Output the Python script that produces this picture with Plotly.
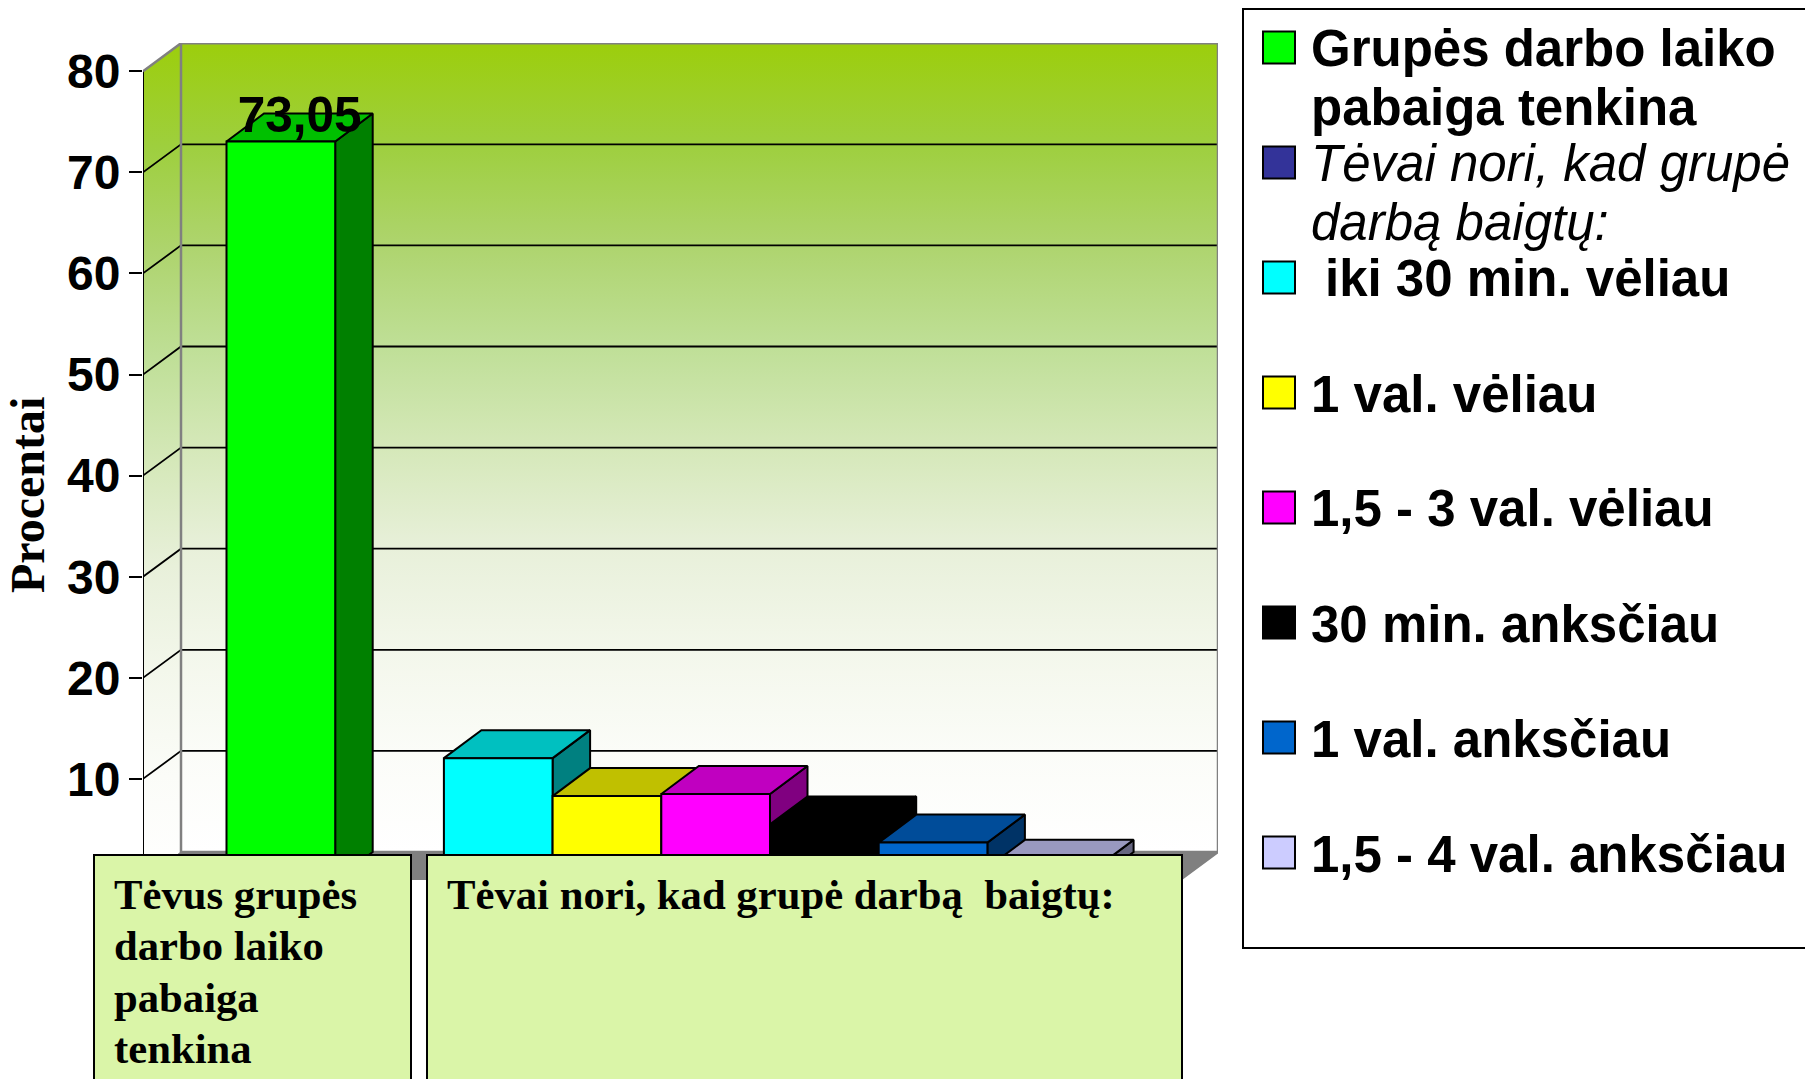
import plotly.graph_objects as go

# ---- data ----
series_names = ["Grupės darbo laiko pabaiga tenkina", "Tėvai nori, kad grupė darbą baigtų:",
                "iki 30 min. vėliau", "1 val. vėliau", "1,5 - 3 val. vėliau",
                "30 min. anksčiau", "1 val. anksčiau", "1,5 - 4 val. anksčiau"]
series_values = [73.05, 0, 12.05, 8.3, 8.5, 5.5, 3.7, 1.2]
front_colors = ["#00FF00", "#333399", "#00FFFF", "#FFFF00", "#FF00FF", "#000000", "#0066CC", "#CCCCFF"]
top_colors = ["#00C000", "#262673", "#00C0C0", "#C0C000", "#C000C0", "#000000", "#004C99", "#9999BF"]
side_colors = ["#008000", "#1A1A4D", "#008080", "#808000", "#800080", "#000000", "#003366", "#666680"]
y_ticks = [10, 20, 30, 40, 50, 60, 70, 80]
y_title = "Procentai"
data_label = "73,05"

# ---- frame geometry ----
W, H = 1805, 1079
PX_L, PX_R, PX_T, PX_B = 143, 1218, 43, 880
SLOT = 108.7
BAR0 = 226.5
UNIT = 10.11
x_min = (PX_L - BAR0) / SLOT
x_max = (PX_R - BAR0) / SLOT
y_max = (PX_B - PX_T) / UNIT
wall_dx = 38 / SLOT
wall_dy = 28 / UNIT
bar_dx = 37.5 / SLOT
bar_dy = 28 / UNIT
floor_x_right = x_max - wall_dx


def pxx(px):
    return px / W


def pxy(py):
    return 1 - py / H


fig = go.Figure()
wall_colours = ["#FFFFFF", "#FBFCF8", "#F3F7EB", "#E8F0DA", "#D5E8B9", "#BFDF97", "#AED46E", "#9ECF3E", "#9CCE0C"]
wall_scale = [[i / 8, c] for i, c in enumerate(wall_colours)]


def poly(xs, ys, fill=None, line="#000000", lw=2, grad=False, name=None):
    kw = dict(x=xs, y=ys, mode="lines", fill="toself", showlegend=False, hoverinfo="skip",
              line=dict(color=line, width=lw), name=name)
    if grad:
        kw["fillgradient"] = dict(type="vertical", colorscale=wall_scale)
    else:
        kw["fillcolor"] = fill
    fig.add_trace(go.Scatter(**kw))


def seg(xs, ys, color="#000000", lw=2):
    fig.add_trace(go.Scatter(x=xs, y=ys, mode="lines", showlegend=False, hoverinfo="skip",
                             line=dict(color=color, width=lw)))


top80 = y_ticks[-1]
# walls and floor
poly([x_min + wall_dx, x_max, x_max, x_min + wall_dx, x_min + wall_dx],
     [wall_dy, wall_dy, top80 + wall_dy, top80 + wall_dy, wall_dy], line="rgba(0,0,0,0)", lw=0, grad=True)
poly([x_min, x_min + wall_dx, x_min + wall_dx, x_min, x_min],
     [0, wall_dy, top80 + wall_dy, top80, 0], line="rgba(0,0,0,0)", lw=0, grad=True)
poly([x_min, x_min + wall_dx, x_max, floor_x_right, x_min],
     [0, wall_dy, wall_dy, 0, 0], fill="#808080", line="#808080", lw=1)

# grid lines on the two walls
for t in y_ticks[:-1]:
    seg([x_min, x_min + wall_dx, x_max], [t, t + wall_dy, t + wall_dy], lw=1.8)

# wall edges
seg([x_min, x_min], [0, top80], lw=2)
seg([x_min, x_min + wall_dx, x_max, x_max, floor_x_right],
    [top80, top80 + wall_dy, top80 + wall_dy, wall_dy, 0], color="#808080", lw=2.5)
seg([x_min + wall_dx, x_min + wall_dx, x_max], [top80 + wall_dy, wall_dy, wall_dy], color="#808080", lw=2.5)

# bars, painted left to right
for i, (name, v) in enumerate(zip(series_names, series_values)):
    if v <= 0:
        continue
    lc = "#000000"
    lw = 2
    poly([i + 1, i + 1 + bar_dx, i + 1 + bar_dx, i + 1, i + 1], [0, bar_dy, v + bar_dy, v, 0],
         fill=side_colors[i], line=lc, lw=lw, name=name)
    poly([i, i + 1, i + 1 + bar_dx, i + bar_dx, i], [v, v, v + bar_dy, v + bar_dy, v],
         fill=top_colors[i], line=lc, lw=lw, name=name)
    poly([i, i + 1, i + 1, i, i], [0, 0, v, v, 0], fill=front_colors[i], line=lc, lw=lw, name=name)

# data label
fig.add_trace(go.Scatter(x=[0.5 + bar_dx / 2], y=[series_values[0] + bar_dy - 0.6], mode="text", text=[data_label],
                         textposition="middle center", showlegend=False, hoverinfo="skip",
                         textfont=dict(family="Liberation Sans", size=49.5, color="#000000", weight="bold")))

shapes = []
annotations = []


def rect(x0, y0, x1, y1, fill, line="#000000", lw=2):
    shapes.append(dict(type="rect", xref="paper", yref="paper", layer="above",
                       x0=pxx(x0), x1=pxx(x1), y0=pxy(y0), y1=pxy(y1),
                       fillcolor=fill, line=dict(color=line, width=lw)))


def label(x, y, text, family="Liberation Sans", size=51, weight="bold", style="normal"):
    annotations.append(dict(xref="paper", yref="paper", x=pxx(x), y=pxy(y), text=text, showarrow=False,
                            xanchor="left", yanchor="middle", align="left",
                            borderpad=0, borderwidth=0,
                            font=dict(family=family, size=size, weight=weight, style=style, color="#000000")))


# axis title
annotations.append(dict(xref="paper", yref="paper", x=pxx(27), y=pxy(495), text=y_title, showarrow=False,
                        textangle=-90, xanchor="center", yanchor="middle",
                        font=dict(family="Liberation Serif", size=48, weight="bold", color="#000000")))

# text boxes under the plot
BOX = "#DAF5A8"
rect(94, 855, 411, 1100, BOX)
rect(427, 855, 1182, 1100, BOX)
for yy, t in zip([894, 945, 997, 1048], ["Tėvus grupės", "darbo laiko", "pabaiga", "tenkina"]):
    label(114, yy, t, family="Liberation Serif", size=42.7)
label(447, 894, "Tėvai nori, kad grupė darbą  baigtų:", family="Liberation Serif", size=42.7)

# legend panel
rect(1243, 9, 1830, 948, "#FFFFFF")
swatch_centres = [47.5, 162.5, 277.5, 392.5, 507.5, 622.5, 737.5, 852.5]
for c, col in zip(swatch_centres, front_colors):
    rect(1263, c - 16, 1295, c + 16, col, lw=2)
legend_lines = [
    (48, "Grupės darbo laiko", "bold", "normal", 1311),
    (108, "pabaiga tenkina", "bold", "normal", 1311),
    (163, "Tėvai nori, kad grupė", "normal", "italic", 1311),
    (222, "darbą baigtų:", "normal", "italic", 1311),
    (279, "iki 30 min. vėliau", "bold", "normal", 1325),
    (394, "1 val. vėliau", "bold", "normal", 1311),
    (509, "1,5 - 3 val. vėliau", "bold", "normal", 1311),
    (624, "30 min. anksčiau", "bold", "normal", 1311),
    (739, "1 val. anksčiau", "bold", "normal", 1311),
    (854, "1,5 - 4 val. anksčiau", "bold", "normal", 1311),
]
for yy, t, w, s, xx in legend_lines:
    label(xx, yy, t, weight=w, style=s)

fig.update_layout(
    width=W, height=H, margin=dict(l=0, r=0, t=0, b=0),
    paper_bgcolor="#FFFFFF", plot_bgcolor="#FFFFFF", showlegend=False,
    xaxis=dict(domain=[PX_L / W, PX_R / W], range=[x_min, x_max], visible=False, fixedrange=True),
    yaxis=dict(domain=[(H - PX_B) / H, (H - PX_T) / H], range=[0, y_max], tickvals=y_ticks,
               ticktext=[str(t) for t in y_ticks], ticks="outside", ticklen=13, tickwidth=2, tickcolor="#000000",
               ticklabelstandoff=-1, showgrid=False, zeroline=False, showline=False, fixedrange=True,
               tickfont=dict(family="Liberation Sans", size=48, color="#000000", weight="bold")),
    shapes=shapes, annotations=annotations,
)
fig.write_html("out.html", config={"displayModeBar": False},
               post_script="document.body.style.margin='0';document.documentElement.style.overflow='hidden';")
